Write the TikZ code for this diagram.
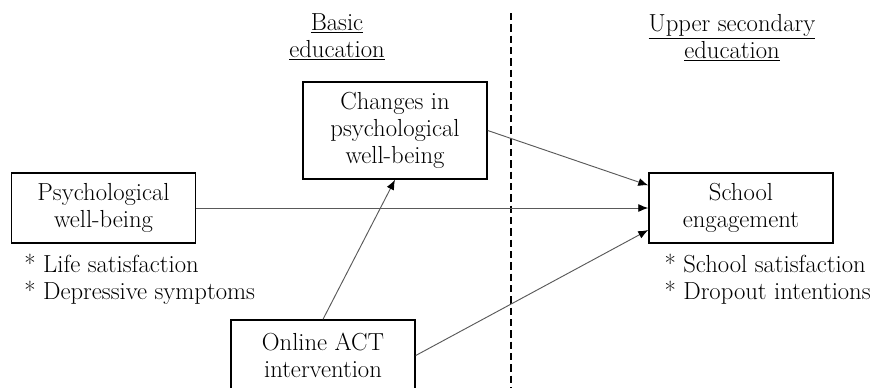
\documentclass[tikz,border=0pt]{standalone}
\usepackage{tikz}
\usepackage{xcolor}
\usetikzlibrary{arrows.meta, positioning}
\tikzstyle{construct} = [rectangle, draw, line width=1.1pt, minimum width=138pt, minimum height=52.5pt, inner sep=0pt, align=center]
\tikzstyle{items} = [draw=none, inner sep=0pt, align=left]
\tikzstyle{period} = [draw=none, inner sep=0pt, align=center]
\tikzstyle{arrow} = [draw=black!65, line width=0.7pt, -{Latex[color=black, length=7.5pt, width=6pt]}]

\begin{document}
\begin{tikzpicture}[x=0.75pt, y=-0.75pt, font=\fontsize{18.5}{20.25}\selectfont]
    \useasboundingbox (0,0) rectangle (874,387);

            % Nodes
            \node (basic) [period, anchor=north] at (337,13) {\underline{Basic}\\\underline{education}};
            \node (upper) [period, anchor=north] at (732,14) {\underline{Upper secondary}\\\underline{education}};

            \node (psy) [construct] at (103.5,208) {Psychological\\well-being};
            \node (psyitems) [items, below right=7.6pt and 10pt of psy.south west] {* Life satisfaction\\* Depressive symptoms};

            \node (chg) [construct, minimum height=72.75pt] at (395,130.5) {Changes in\\psychological\\well-being};

            \node (act) [construct, minimum height=53.25pt] at (323,355.5) {Online ACT\\intervention};

            \node (sch) [construct] at (741,208) {School\\engagement};
            \node (schitems) [items, below right=7.6pt and 12pt of sch.south west] {* School satisfaction\\* Dropout intentions};

            \coordinate (divtop) at (511,13);
            \coordinate (divbot) at (511,390);

            % Divider
            \draw [line width=1.1pt, dash pattern=on 5.5pt off 3pt] (divtop) -- (divbot);

            % Arrows
            \draw [arrow] (chg.east) -- ([yshift=17pt]sch.west);
            \draw [arrow] (psy.east) -- (sch.west);
            \draw [arrow] (act.north) -- (chg.south);
            \draw [arrow] (act.east) -- ([yshift=-16.5pt]sch.west);

        \end{tikzpicture}
\end{document}
